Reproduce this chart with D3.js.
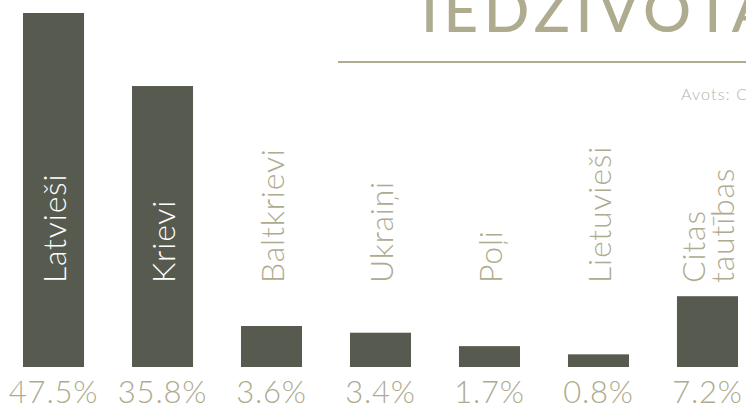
<!DOCTYPE html>
<html>
<head>
<meta charset="utf-8">
<script src="https://cdn.jsdelivr.net/npm/d3@7"></script>
<style>
  html, body { margin: 0; padding: 0; background: #ffffff; overflow: hidden; }
  svg { display: block; font-family: "Lato", "Open Sans", sans-serif; }
</style>
</head>
<body>
<div id="chart"></div>
<script>
// Nationalities, as printed on the chart
const categories = ["Latvieši", "Krievi", "Baltkrievi", "Ukraiņi", "Poļi", "Lietuvieši", "Citas tautības"];
// Printed shares (%)
const shares = [47.5, 35.8, 3.6, 3.4, 1.7, 0.8, 7.2];
// Bar lengths as drawn in the picture (same unit as the first bar's share)
const barValues = [47.5, 37.7, 5.5, 4.6, 2.8, 1.7, 9.5];
// Bars tall enough to carry their label inside
const insideLabel = ["Latvieši", "Krievi"];

const width = 746;
const height = 405;

const barColor = "#575b4f";
const olive = "#aeab8f";

const svg = d3.select("#chart")
  .append("svg")
    .attr("width", width)
    .attr("height", height)
    .attr("viewBox", `0 0 ${width} ${height}`);

/*****************/
/*    Scales     */
/*****************/
const xScale = d3.scaleBand()
  .domain(categories)
  .range([23, 738])
  .paddingInner(0.44)
  .paddingOuter(0);

const yScale = d3.scaleLinear()
  .domain([0, d3.max(barValues)])
  .range([367, 13]);

/*****************/
/*    Header     */
/*****************/
svg.append("text")
    .attr("x", 421)
    .attr("y", 32)
    .attr("fill", olive)
    .attr("font-size", 60)
    .attr("font-weight", 500)
    .attr("letter-spacing", 5.5)
    .text("IEDZĪVOTĀJU NACIONĀLAIS SASTĀVS");

svg.append("line")
    .attr("x1", 338)
    .attr("x2", width)
    .attr("y1", 62)
    .attr("y2", 62)
    .attr("stroke", olive)
    .attr("stroke-width", 2);

svg.append("text")
    .attr("x", 681)
    .attr("y", 100)
    .attr("fill", "#b3b3b3")
    .attr("font-size", 16)
    .attr("font-weight", 300)
    .attr("letter-spacing", 1.2)
    .text("Avots: CSP");

/*****************/
/*     Bars      */
/*****************/
const data = categories.map((c, i) => ({ name: c, share: shares[i], value: barValues[i] }));

svg.selectAll(".bar")
  .data(data)
  .join("rect")
    .attr("class", "bar")
    .attr("x", d => xScale(d.name))
    .attr("y", d => yScale(d.value))
    .attr("width", xScale.bandwidth())
    .attr("height", d => yScale(0) - yScale(d.value))
    .attr("fill", barColor);

// Percentages under the bars
svg.selectAll(".share")
  .data(data)
  .join("text")
    .attr("class", "share")
    .attr("x", d => xScale(d.name) + xScale.bandwidth() / 2)
    .attr("y", 403)
    .attr("text-anchor", "middle")
    .attr("fill", olive)
    .attr("font-size", 31)
    .attr("font-weight", 300)
    .attr("letter-spacing", 0.8)
    .text(d => `${d.share}%`);

// Rotated category names
const labelBase = 283;
const labels = svg.selectAll(".name")
  .data(data)
  .join("text")
    .attr("class", "name")
    .attr("transform", d => `translate(${xScale(d.name) + xScale.bandwidth() / 2}, ${labelBase}) rotate(-90)`)
    .attr("fill", d => insideLabel.includes(d.name) ? "#ffffff" : olive)
    .attr("font-size", 32)
    .attr("font-weight", 300)
    .attr("letter-spacing", 0.8);

labels.each(function(d) {
  const words = d.name.split(" ");
  const lineH = 29;
  const first = (words.length - 1) * -lineH / 2;
  d3.select(this).selectAll("tspan")
    .data(words)
    .join("tspan")
      .attr("x", 0)
      .attr("y", (w, i) => first + i * lineH)
      .attr("dy", "0.38em")
      .text(w => w);
});
</script>
</body>
</html>
